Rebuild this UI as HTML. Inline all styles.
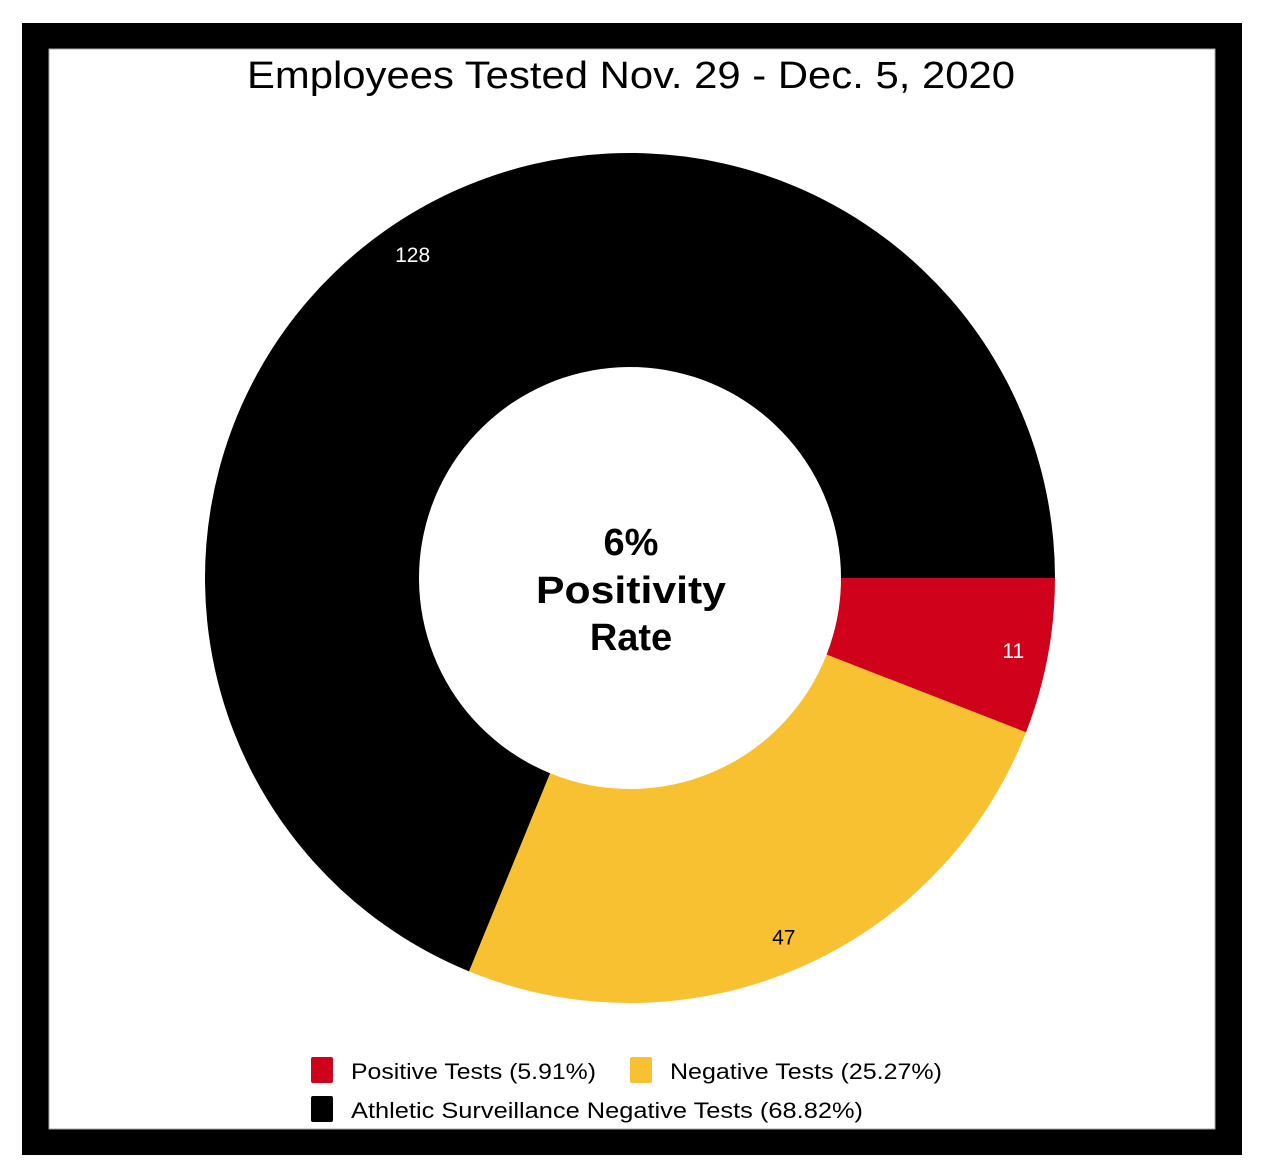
<!DOCTYPE html>
<html><head><meta charset="utf-8"><style>
html,body{margin:0;padding:0;background:#fff;width:1262px;height:1174px;overflow:hidden}
svg{display:block}
text{font-family:"Liberation Sans",sans-serif}
</style></head><body>
<svg width="1262" height="1174">
<rect x="22" y="23" width="1220" height="1132" fill="#000"/>
<rect x="49" y="49" width="1166" height="1080" fill="#fff" stroke="#aaa" stroke-width="1"/>
<text x="631" y="88" font-size="38" text-anchor="middle" textLength="768" lengthAdjust="spacingAndGlyphs">Employees Tested Nov. 29 - Dec. 5, 2020</text>
<g id="slices"></g>
<g id="labels"></g>
<text x="631" y="555" font-size="38" font-weight="bold" text-anchor="middle">6%</text>
<text x="631" y="603" font-size="38" font-weight="bold" text-anchor="middle" textLength="190" lengthAdjust="spacingAndGlyphs">Positivity</text>
<text x="631" y="650" font-size="38" font-weight="bold" text-anchor="middle">Rate</text>
<g id="legend"></g>
</svg>
<script>
const categories=["Positive Tests","Negative Tests","Athletic Surveillance Negative Tests"];
const values=[11,47,128];
const percents=["5.91%","25.27%","68.82%"];
const colors=["#d0021b","#f8c132","#000000"];
const labelColors=["#fff","#000","#fff"];
const NS="http://www.w3.org/2000/svg";
const cx=630,cy=578,R=425,r=211;
const total=values.reduce((a,b)=>a+b,0);
const sg=document.getElementById('slices'),lg=document.getElementById('labels'),leg=document.getElementById('legend');
let a0=0;
function pt(rad,a){return [cx+rad*Math.cos(a),cy+rad*Math.sin(a)];}
values.forEach((v,i)=>{
  const a1=a0+v/total*2*Math.PI;
  const large=(a1-a0)>Math.PI?1:0;
  const p1=pt(R,a0),p2=pt(R,a1),p3=pt(r,a1),p4=pt(r,a0);
  const p=document.createElementNS(NS,'path');
  p.setAttribute('d',`M${p1[0]},${p1[1]}A${R},${R} 0 ${large} 1 ${p2[0]},${p2[1]}L${p3[0]},${p3[1]}A${r},${r} 0 ${large} 0 ${p4[0]},${p4[1]}Z`);
  p.setAttribute('fill',colors[i]);
  
  
  sg.appendChild(p);
  const am=(a0+a1)/2,lp=pt(390,am);
  const t=document.createElementNS(NS,'text');
  t.setAttribute('x',lp[0]);t.setAttribute('y',lp[1]+8);
  t.setAttribute('text-anchor','middle');t.setAttribute('font-size','21');
  t.setAttribute('fill',labelColors[i]);
  t.textContent=v;
  
  
  lg.appendChild(t);
  a0=a1;
});
const legPos=[[311,1057,245],[630,1057,272],[311,1096,512]];
categories.forEach((c,i)=>{
  const [x,y,w]=legPos[i];
  const s=document.createElementNS(NS,'rect');
  s.setAttribute('x',x);s.setAttribute('y',y);s.setAttribute('width',22);s.setAttribute('height',26);s.setAttribute('rx',2);
  s.setAttribute('fill',colors[i]);
  
  
  leg.appendChild(s);
  const t=document.createElementNS(NS,'text');
  t.setAttribute('x',x+40);t.setAttribute('y',y+22);t.setAttribute('font-size','22');
  t.setAttribute('textLength',w);t.setAttribute('lengthAdjust','spacingAndGlyphs');
  t.textContent=c+' ('+percents[i]+')';
  
  
  leg.appendChild(t);
});
</script>
</body></html>
